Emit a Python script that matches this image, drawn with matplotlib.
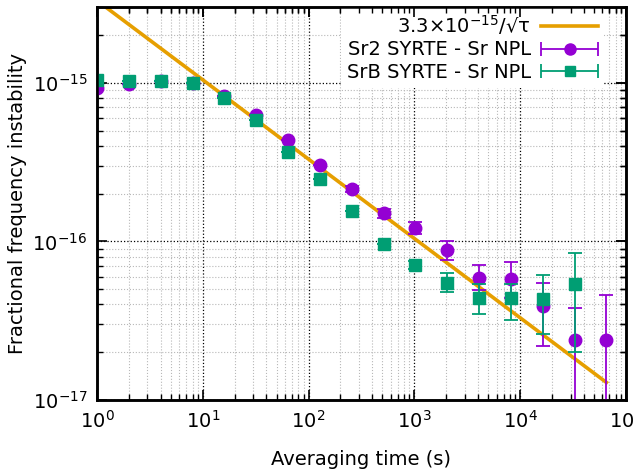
import numpy as np
import matplotlib

matplotlib.use("Agg")
import matplotlib.pyplot as plt
from matplotlib.legend_handler import HandlerErrorbar

# averaging times (powers of 2)
tau = [1, 2, 4, 8, 16, 32, 64, 128, 256, 512, 1024, 2048, 4096, 8192,
       16384, 32768, 65536]

# Sr2 SYRTE - Sr NPL
sr2_adev = [9.3e-16, 9.85e-16, 1.02e-15, 1.0e-15, 8.3e-16, 6.3e-16, 4.38e-16,
            3.05e-16, 2.15e-16, 1.5e-16, 1.21e-16, 8.8e-17, 5.85e-17, 5.77e-17,
            3.9e-17, 2.38e-17, 2.38e-17]
sr2_err_lo = [0, 0, 0, 0, 0, 0, 0, 0, 0.1e-16, 0.1e-16, 0.09e-16, 1.2e-17,
              0.9e-17, 1.4e-17, 1.7e-17, 2.38e-17, 2.38e-17]
sr2_err_hi = [0, 0, 0, 0, 0, 0, 0, 0, 0.1e-16, 0.1e-16, 0.12e-16, 1.2e-17,
              1.25e-17, 1.6e-17, 1.6e-17, 1.4e-17, 2.2e-17]

# SrB SYRTE - Sr NPL
srb_tau = tau[:-1]
srb_adev = [1.04e-15, 1.03e-15, 1.03e-15, 1.0e-15, 8.05e-16, 5.85e-16, 3.68e-16,
            2.46e-16, 1.55e-16, 9.6e-17, 7.1e-17, 5.5e-17, 4.4e-17, 4.4e-17,
            4.3e-17, 5.35e-17]
srb_err_lo = [0, 0, 0, 0, 0, 0, 0, 0, 0, 0, 0.4e-17, 0.7e-17, 0.9e-17,
              1.2e-17, 1.7e-17, 3.35e-17]
srb_err_hi = [0, 0, 0, 0, 0, 0, 0, 0, 0, 0, 0.4e-17, 0.8e-17, 1.0e-17,
              1.0e-17, 1.8e-17, 3.15e-17]

white_noise = 3.3e-15

orange = "#e69f00"
purple = "#9400d3"
green = "#009e73"

plt.rcParams["font.family"] = ["DejaVu Sans"]
plt.rcParams["font.size"] = 14

fig = plt.figure(figsize=(6.36, 4.75), dpi=100)
rect = [0.1525, 0.158, 0.8315, 0.827]
ax = fig.add_axes(rect)

ax.set_xscale("log")
ax.set_yscale("log")

ax.plot(tau, white_noise / np.sqrt(tau), color=orange, lw=2.6, zorder=2,
        label=r"3.3$\times$10$^{-15}$/√τ")

ax.errorbar(tau, sr2_adev, yerr=[sr2_err_lo, sr2_err_hi], fmt="o",
            color=purple, ms=9, elinewidth=1.3, capsize=5, capthick=1.3,
            zorder=3)
ax.errorbar(srb_tau, srb_adev, yerr=[srb_err_lo, srb_err_hi], fmt="s",
            color=green, ms=8, elinewidth=1.3, capsize=5, capthick=1.3,
            zorder=4)

# legend proxies with horizontal bars, like the gnuplot key
p_sr2 = ax.errorbar([np.nan], [np.nan], xerr=[1], fmt="o", color=purple,
                    ms=8, elinewidth=1.3, capsize=5, capthick=1.3,
                    label="Sr2 SYRTE - Sr NPL")
p_srb = ax.errorbar([np.nan], [np.nan], xerr=[1], fmt="s", color=green,
                    ms=7, elinewidth=1.3, capsize=5, capthick=1.3,
                    label="SrB SYRTE - Sr NPL")

ax.set_xlim(1, 1e5)
ax.set_ylim(1e-17, 3e-15)

ax.grid(True, which="major", color="black", ls=":", lw=0.9)
ax.grid(True, which="minor", color="#b8b8b8", ls=":", lw=0.8)
ax.set_axisbelow(True)

ax.tick_params(which="both", direction="in", top=True, right=True)
ax.tick_params(which="major", length=7, width=1.2)
ax.tick_params(which="minor", length=4, width=1)
ax.tick_params(axis="x", which="major", pad=7)
ax.tick_params(axis="y", which="major", pad=7)
for s in ax.spines.values():
    s.set_linewidth(1.8)

ax.set_xlabel("Averaging time (s)", labelpad=13)
ax.set_ylabel("Fractional frequency instability", labelpad=4)

handles, labels = ax.get_legend_handles_labels()
leg = ax.legend(handles, labels, loc="upper right",
                bbox_to_anchor=(0.958, 1.0), markerfirst=False,
                handlelength=2.9, handletextpad=0.55, labelspacing=0.18,
                borderaxespad=0.0, borderpad=0.3, frameon=True,
                framealpha=1, edgecolor="none", fancybox=False,
                handler_map={type(p_sr2): HandlerErrorbar(xerr_size=1.45)})
leg.set_zorder(5)

# border and ticks drawn again above the key
ax2 = fig.add_axes(rect, sharex=ax, sharey=ax)
ax2.patch.set_visible(False)
ax2.tick_params(which="both", direction="in", top=True, right=True,
                bottom=False, left=False, labelbottom=False, labelleft=False)
ax2.tick_params(which="major", length=7, width=1.2)
ax2.tick_params(which="minor", length=4, width=1)
for s in ax2.spines.values():
    s.set_linewidth(1.8)

plt.savefig("out.png")
plt.close()
